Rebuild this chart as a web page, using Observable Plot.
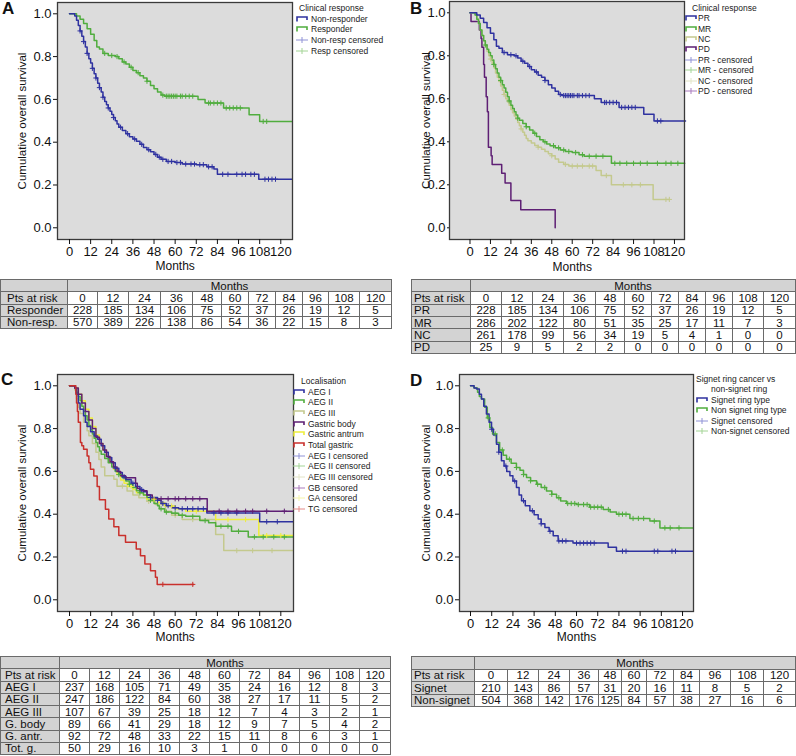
<!DOCTYPE html>
<html><head><meta charset="utf-8">
<script src="https://cdn.jsdelivr.net/npm/d3@7"></script>
<script src="https://cdn.jsdelivr.net/npm/@observablehq/plot@0.6"></script>
<style>
html,body{margin:0;padding:0;background:#fff;}
#root{position:relative;width:796px;height:756px;overflow:hidden;font-family:"Liberation Sans",Arial,Helvetica,sans-serif;color:#111;}
.abs{position:absolute;}
.plabel{font-weight:bold;font-size:17px;line-height:16px;}
.legend{font-size:8.5px;color:#222;white-space:nowrap;}
.legend .row{display:flex;align-items:center;}
.legend .title{text-align:left;}
table.risk{border-collapse:collapse;table-layout:fixed;font-size:11.5px;}
table.risk td{border:1px solid #6a6a6a;padding:0;text-align:center;line-height:10px;overflow:hidden;white-space:nowrap;box-sizing:border-box;}
table.risk td.h{background:#d3d3d3;text-align:left;}
table.risk td.mh{background:#d3d3d3;text-align:center;}
</style></head><body><div id="root"></div>
<script>
// ---------- shared ticks ----------
const months = [0,12,24,36,48,60,72,84,96,108,120];
const yTicks = [0,0.2,0.4,0.6,0.8,1.0];

// ---------- Panel A : clinical response ----------
const responder = [[0,1],[4,0.99],[6,0.975],[8,0.955],[10,0.93],[12,0.905],[14,0.875],[15.5,0.845],[17,0.835],[19,0.815],[22,0.805],[26,0.8],[28,0.79],[30,0.775],[32,0.765],[34,0.75],[36,0.735],[38,0.725],[40,0.71],[42,0.7],[44,0.685],[46,0.665],[48,0.65],[50,0.635],[52,0.62],[54,0.615],[73,0.6],[77,0.583],[87.5,0.56],[102,0.528],[108,0.497],[126.5,0.497]];
const responderCens = [20,24,27,31,35,39,44,53,55,56,57,58,59,60,61,63,64,66,68,70,79,80,82,84,86,89,91,93,95,97,110,112];
const nonResponder = [[0,1],[3,0.99],[4,0.97],[5,0.945],[6,0.92],[7,0.895],[8,0.87],[9,0.845],[10,0.815],[11,0.79],[12,0.77],[13,0.745],[14,0.72],[15,0.7],[16,0.675],[17,0.655],[18,0.635],[19,0.61],[20,0.59],[21,0.575],[22,0.56],[23,0.545],[24,0.53],[25,0.515],[26,0.5],[27,0.485],[28,0.47],[30,0.455],[32,0.44],[34,0.425],[36,0.415],[38,0.405],[40,0.39],[42,0.375],[44,0.365],[46,0.355],[48,0.343],[50,0.33],[52,0.32],[55,0.31],[60,0.305],[64,0.298],[72,0.295],[78,0.285],[82,0.275],[84,0.25],[107.5,0.227],[126.5,0.227]];
const nonResponderCens = [6,8,10,13,15,17,19,22,25,29,33,37,41,45,49,51,53,56,58,61,63,66,69,71,74,76,79,81,87,90,95,98,100,103,105,111,113,115,117];
const riskResponder = [228,185,134,106,75,52,37,26,19,12,5];
const riskNonResp = [570,389,226,138,86,54,36,22,15,8,3];

// ---------- Panel B : PR / MR / NC / PD ----------
const curvePR = responder; // same patients as "Responder" (identical numbers at risk)
const curvePRCens = responderCens;
const curveMR = [[0,1],[3,0.99],[4,0.97],[5,0.95],[6,0.92],[7,0.895],[8,0.87],[9,0.85],[10,0.83],[11,0.815],[12,0.8],[13,0.78],[14,0.76],[15,0.74],[16,0.72],[17,0.7],[18,0.685],[19,0.665],[20,0.65],[21,0.63],[22,0.61],[23,0.59],[24,0.57],[25,0.555],[26,0.54],[27,0.525],[28,0.51],[29,0.5],[31,0.485],[33,0.47],[35,0.455],[37,0.44],[39,0.425],[41,0.41],[43,0.4],[45,0.39],[47,0.382],[50,0.372],[53,0.362],[56,0.355],[60,0.35],[64,0.34],[67,0.333],[83,0.3],[126,0.3]];
const curveMRCens = [9,14,18,23,28,33,38,44,49,52,55,58,62,66,70,74,78,85,88,92,96,100,104,110,115,118,122];
const curveNC = [[0,1],[3,0.99],[4,0.97],[5,0.95],[6,0.92],[7,0.895],[8,0.87],[9,0.845],[10,0.82],[11,0.8],[12,0.785],[13,0.765],[14,0.745],[15,0.72],[16,0.7],[17,0.68],[18,0.66],[19,0.64],[20,0.62],[21,0.6],[22,0.585],[23,0.57],[24,0.55],[25,0.535],[26,0.52],[27,0.505],[28,0.49],[29,0.475],[30,0.46],[31,0.445],[32,0.43],[33,0.415],[34,0.405],[36,0.395],[38,0.383],[40,0.375],[42,0.365],[44,0.355],[46,0.345],[48,0.335],[50,0.32],[52,0.305],[55,0.295],[58,0.287],[74,0.267],[77,0.243],[83,0.2],[107.5,0.132],[117,0.132]];
const curveNCCens = [12,20,30,40,48,56,60,63,66,70,72,80,90,95,100,115,117];
const curvePD = [[0,1],[0.6,0.96],[5.5,0.92],[6.5,0.88],[7,0.84],[8,0.76],[8.5,0.7],[9.5,0.61],[10.2,0.54],[10.8,0.375],[12.4,0.335],[13,0.295],[18.6,0.254],[20.6,0.208],[24,0.127],[29.8,0.084],[50,0]];
const riskPR = [228,185,134,106,75,52,37,26,19,12,5];
const riskMR = [286,202,122,80,51,35,25,17,11,7,3];
const riskNC = [261,178,99,56,34,19,5,4,1,0,0];
const riskPD = [25,9,5,2,2,0,0,0,0,0,0];

// ---------- Panel C : localisation ----------
const curveAEG1 = [[0,1],[3,0.99],[4,0.96],[5,0.92],[6,0.89],[8,0.86],[9,0.83],[10,0.81],[12,0.785],[14,0.765],[16,0.75],[18,0.72],[20,0.69],[22,0.665],[24,0.64],[26,0.615],[28,0.595],[30,0.575],[32,0.562],[35,0.545],[37.5,0.53],[40,0.515],[42,0.505],[44,0.49],[46,0.478],[50,0.465],[52,0.45],[55,0.44],[58,0.43],[62,0.425],[78,0.406],[108,0.365],[127,0.365]];
const curveAEG1Cens = [26,31,36,41,46,50,53,56,60,64,67,70,73,76,82,86,90,95,112,118];
const curveAEG2 = [[0,1],[3,0.99],[4,0.97],[5,0.95],[6,0.93],[7,0.905],[8,0.88],[9,0.86],[10,0.84],[11,0.815],[12,0.795],[13,0.775],[14,0.755],[15,0.735],[16,0.715],[17,0.695],[18,0.68],[20,0.66],[22,0.64],[24,0.62],[26,0.6],[28,0.585],[30,0.57],[32,0.555],[34,0.54],[36,0.525],[38,0.51],[40,0.5],[42,0.49],[44,0.478],[46,0.465],[48,0.45],[50,0.44],[51,0.425],[54,0.41],[58,0.405],[62,0.395],[66,0.39],[74,0.37],[79,0.36],[83,0.344],[92,0.32],[101.5,0.294],[127,0.294]];
const curveAEG2Cens = [28,34,40,46,52,55,60,64,70,77,86,90,96,105,110,116,122];
const curveAEG3 = [[0,1],[3,0.98],[4,0.94],[5,0.9],[6,0.87],[8,0.83],[10,0.79],[11,0.766],[13,0.73],[15,0.69],[16.7,0.656],[18,0.62],[20,0.58],[25.2,0.563],[27,0.531],[32.7,0.508],[36,0.49],[39.4,0.477],[44,0.46],[48.8,0.445],[54.5,0.414],[58,0.395],[64,0.375],[83,0.305],[87.6,0.23],[127,0.23]];
const curveAEG3Cens = [30,45,60,70,95,104,115];
const curveGBody = [[0,1],[3,0.99],[5,0.96],[7,0.92],[9,0.88],[11,0.84],[13,0.8],[15,0.76],[17,0.73],[19,0.7],[21,0.67],[23,0.645],[25,0.62],[27,0.6],[29,0.58],[31.8,0.57],[37.5,0.545],[38.5,0.52],[40,0.51],[44,0.49],[47,0.472],[78.2,0.414],[127,0.414]];
const curveGBodyCens = [52,56,60,62,66,70,74,85,90,95,100,104,112,122];
const curveGAntr = [[0,1],[3,0.99],[5,0.96],[7,0.93],[9,0.89],[11,0.85],[13,0.81],[15,0.77],[17,0.73],[19,0.7],[21,0.67],[23,0.64],[25,0.61],[27,0.585],[29,0.56],[31,0.545],[33,0.53],[36,0.515],[38,0.5],[42,0.49],[44,0.47],[50,0.455],[54,0.438],[60,0.425],[66,0.414],[83,0.375],[107.5,0.3],[127,0.3]];
const curveGAntrCens = [35,48,58,72,90,100,112,120];
const curveTotG = [[0,1],[3.6,0.96],[4,0.92],[4.5,0.88],[5,0.83],[6.2,0.735],[7,0.72],[8,0.703],[10,0.672],[11,0.64],[11.9,0.61],[13.8,0.578],[15.7,0.53],[17,0.467],[20.4,0.423],[22.3,0.377],[25.2,0.341],[28,0.3],[31.8,0.269],[37.9,0.237],[40.3,0.206],[42.8,0.167],[46,0.136],[48.8,0.105],[49.8,0.072],[70.6,0.072]];
const curveTotGCens = [53,70];
const riskAEG1 = [237,168,105,71,49,35,24,16,12,8,3];
const riskAEG2 = [247,186,122,84,60,38,27,17,11,5,2];
const riskAEG3 = [107,67,39,25,18,12,7,4,3,2,1];
const riskGBody = [89,66,41,29,18,12,9,7,5,4,2];
const riskGAntr = [92,72,48,33,22,15,11,8,6,3,1];
const riskTotG = [50,29,16,10,3,1,0,0,0,0,0];

// ---------- Panel D : signet ring ----------
const curveSignet = [[0,1],[2,0.99],[3.4,0.985],[5,0.96],[6.2,0.938],[7.5,0.905],[9,0.868],[10.5,0.83],[11.9,0.797],[13,0.77],[14.7,0.727],[16,0.69],[17.5,0.65],[19,0.625],[20.5,0.6],[22.3,0.58],[24,0.555],[26,0.525],[27.5,0.49],[28.9,0.463],[31,0.44],[33.6,0.416],[36,0.397],[38.3,0.377],[40,0.355],[42.1,0.338],[44.5,0.32],[46.8,0.299],[49.6,0.275],[58,0.265],[77.9,0.245],[82.6,0.227],[126,0.227]];
const curveSignetCens = [12,16,20,25,30,35,40,45,50,52,54,60,62,64,66,68,70,86,88,104,106,114,116];
const curveNonSignet = [[0,1],[2,0.99],[4,0.97],[5,0.95],[6.2,0.938],[8,0.9],[9.5,0.85],[10.9,0.805],[12.5,0.775],[14.7,0.735],[16.5,0.7],[18.5,0.675],[20.4,0.657],[23,0.638],[26,0.618],[28,0.605],[30,0.585],[31.7,0.571],[34,0.556],[37.4,0.54],[40,0.525],[43,0.508],[46,0.493],[48.7,0.477],[51,0.462],[54.3,0.45],[60,0.445],[67.5,0.433],[75.1,0.422],[79,0.41],[82.6,0.4],[90.2,0.38],[101.5,0.368],[107.2,0.336],[126,0.336]];
const curveNonSignetCens = [10,14,18,22,26,30,34,38,42,46,50,55,57,59,61,64,66,68,70,72,74,78,84,86,88,92,95,98,104,110,113,118];
const riskSignet = [210,143,86,57,31,20,16,11,8,5,2];
const riskNonSignet = [504,368,142,176,125,84,57,38,27,16,6];

// ---------- colours ----------
const C = {blue:"#2f32a0", green:"#50ad3e", khaki:"#c4c98e", purple:"#5e1f74", yellow:"#eeee3c", red:"#c9302c",
  lblue:"#8f92d6", lgreen:"#a3d495", lkhaki:"#e2e4c6", lpurple:"#a97bbd", lyellow:"#f5f5a8", lred:"#e58a86"};
const FONT = '"Liberation Sans", Arial, Helvetica, sans-serif';

function survAt(curve, t){ let v = curve[0][1]; for (const [m,s] of curve){ if (m <= t) v = s; else break; } return v; }

const root = document.getElementById("root");

function kmPlot(cfg){
  const marks = [Plot.frame({fill:"#dcdcdc"})];
  for (const s of cfg.series){
    marks.push(Plot.line(s.curve, {x: d=>d[0], y: d=>d[1], stroke: s.color, strokeWidth: 1.5, curve: "step-after"}));
  }
  for (const s of cfg.series){
    if (!s.cens) continue;
    const pts = s.cens.map(t => [t, survAt(s.curve, t)]);
    marks.push(Plot.dot(pts, {x: d=>d[0], y: d=>d[1], stroke: s.color, symbol: "plus", r: 1.8, strokeWidth: 1}));
  }
  marks.push(Plot.frame({stroke:"#3a3a3a", strokeWidth:1.3}));
  marks.push(Plot.axisX({ticks: months, tickSize: 5, tickPadding: 2, label: null, fontSize: 13}));
  marks.push(Plot.axisY({ticks: yTicks, tickFormat: d3.format(".1f"), tickSize: cfg.ytick ?? 4, tickPadding: 2, label: null, fontSize: 13}));
  marks.push(Plot.text([d3.mean(months)], {x: d=>d, frameAnchor: "bottom", lineAnchor: "middle", dy: cfg.xlabDy, text: () => "Months", fontSize: 12}));
  marks.push(Plot.text(["Cumulative overall survival"], {frameAnchor: "left", textAnchor: "middle", lineAnchor: "middle", dx: cfg.ylabDx, rotate: -90, text: d=>d, fontSize: 11.5}));
  const svg = Plot.plot({
    width: cfg.w, height: cfg.h,
    marginLeft: cfg.ml, marginRight: cfg.mr, marginTop: cfg.mt, marginBottom: cfg.mb,
    style: {fontFamily: FONT, fontSize: "13px", background: "transparent", color: "#111", overflow: "visible"},
    x: {domain: cfg.xd}, y: {domain: cfg.yd},
    marks
  });
  svg.style.position = "absolute"; svg.style.left = cfg.left + "px"; svg.style.top = cfg.top + "px";
  root.appendChild(svg);
}

function panelLabel(text, left, top){
  const d = document.createElement("div"); d.className = "abs plabel"; d.textContent = text;
  d.style.left = left + "px"; d.style.top = top + "px"; root.appendChild(d);
}

function swatch(color, type){
  const ns = "http://www.w3.org/2000/svg";
  const s = document.createElementNS(ns, "svg"); s.setAttribute("width", 12); s.setAttribute("height", 8);
  const p = document.createElementNS(ns, "path");
  if (type === "line") { p.setAttribute("d", "M1,6.5 V2 H11 V5"); p.setAttribute("stroke-width", 1.6); }
  else { p.setAttribute("d", "M0,4 H12 M6,1 V7"); p.setAttribute("stroke-width", 1); }
  p.setAttribute("stroke", color); p.setAttribute("fill", "none");
  s.appendChild(p); return s;
}

function legend(cfg){
  const d = document.createElement("div"); d.className = "abs legend";
  d.style.left = cfg.left + "px"; d.style.top = cfg.top + "px";
  for (const [i, t] of cfg.title.entries()){
    const r = document.createElement("div"); r.className = "title"; r.textContent = t;
    r.style.height = cfg.rowH + "px"; r.style.lineHeight = cfg.rowH + "px";
    r.style.paddingLeft = (cfg.titlePad[i] ?? 0) + "px";
    d.appendChild(r);
  }
  for (const it of cfg.items){
    const r = document.createElement("div"); r.className = "row"; r.style.height = cfg.rowH + "px";
    const sw = swatch(it.color, it.type); sw.style.marginRight = cfg.gap + "px"; r.appendChild(sw);
    const sp = document.createElement("span"); sp.textContent = it.label; r.appendChild(sp);
    d.appendChild(r);
  }
  root.appendChild(d);
}

function riskTable(cfg){
  const t = document.createElement("table"); t.className = "risk abs";
  t.style.left = cfg.left + "px"; t.style.top = cfg.top + "px";
  const cg = document.createElement("colgroup");
  for (const w of [cfg.firstW, ...cfg.colW]){ const c = document.createElement("col"); c.style.width = w + "px"; cg.appendChild(c); }
  t.appendChild(cg);
  t.style.width = (cfg.firstW + d3.sum(cfg.colW)) + "px";
  const addRow = (cells) => { const tr = document.createElement("tr"); tr.style.height = cfg.rowH + "px"; cells.forEach(c => tr.appendChild(c)); t.appendChild(tr); };
  const td = (txt, cls, span) => { const c = document.createElement("td"); c.textContent = txt; if (cls) c.className = cls; if (span) c.colSpan = span; if (cls === "h") c.style.paddingLeft = cfg.pad + "px"; return c; };
  addRow([td("", "h"), td("Months", "mh", months.length)]);
  addRow([td("Pts at risk", "h"), ...months.map(m => td(String(m)))]);
  for (const [label, vals] of cfg.rows) addRow([td(label, "h"), ...vals.map(v => td(String(v)))]);
  root.appendChild(t);
}

// ---------- Panel A ----------
kmPlot({left:0, top:0, w:300, h:275, ml:57, mr:8, mt:2, mb:36, xd:[-6.815,126.65], yd:[-0.0547,1.0528], xlabDy:27, ylabDx:-35,
  series:[{curve:responder, cens:responderCens, color:C.green},{curve:nonResponder, cens:nonResponderCens, color:C.blue}]});
// ---------- Panel B ----------
kmPlot({left:398, top:0, w:300, h:275, ml:51, mr:14, mt:1, mb:36, xd:[-12.03,125.9], yd:[-0.0544,1.0526], xlabDy:27.5, ylabDx:-23.5, ytick:2,
  series:[{curve:curvePD, color:C.purple},{curve:curveNC, cens:curveNCCens, color:C.khaki},{curve:curveMR, cens:curveMRCens, color:C.green},{curve:curvePR, cens:curvePRCens, color:C.blue}]});
// ---------- Panel C ----------
kmPlot({left:0, top:370, w:300, h:275, ml:57, mr:7, mt:4, mb:34, xd:[-6.815,127.2], yd:[-0.0547,1.0528], xlabDy:26, ylabDx:-35,
  series:[{curve:curveAEG3, cens:curveAEG3Cens, color:C.khaki},{curve:curveGAntr, cens:curveGAntrCens, color:C.yellow},{curve:curveAEG2, cens:curveAEG2Cens, color:C.green},{curve:curveAEG1, cens:curveAEG1Cens, color:C.blue},{curve:curveGBody, cens:curveGBodyCens, color:C.purple},{curve:curveTotG, cens:curveTotGCens, color:C.red}]});
// ---------- Panel D ----------
kmPlot({left:398, top:370, w:300, h:275, ml:61, mr:5, mt:4, mb:34, xd:[-6.23,126.2], yd:[-0.0547,1.0528], xlabDy:26, ylabDx:-33.5,
  series:[{curve:curveNonSignet, cens:curveNonSignetCens, color:C.green},{curve:curveSignet, cens:curveSignetCens, color:C.blue}]});

panelLabel("A", 2, 1); panelLabel("B", 410, 1); panelLabel("C", 1, 372); panelLabel("D", 410, 373);

legend({left:296, top:2.7, rowH:10.67, gap:3, title:["Clinical response"], titlePad:[3], items:[
  {label:"Non-responder", color:C.blue, type:"line"},{label:"Responder", color:C.green, type:"line"},
  {label:"Non-resp censored", color:C.lblue, type:"cens"},{label:"Resp censored", color:C.lgreen, type:"cens"}]});
legend({left:685, top:2.5, rowH:10.43, gap:1, title:["Clinical response"], titlePad:[7], items:[
  {label:"PR", color:C.blue, type:"line"},{label:"MR", color:C.green, type:"line"},{label:"NC", color:C.khaki, type:"line"},{label:"PD", color:C.purple, type:"line"},
  {label:"PR - censored", color:C.lblue, type:"cens"},{label:"MR - censored", color:C.lgreen, type:"cens"},{label:"NC - censored", color:C.lkhaki, type:"cens"},{label:"PD - censored", color:C.lpurple, type:"cens"}]});
legend({left:293, top:375.7, rowH:10.67, gap:3, title:["Localisation"], titlePad:[8], items:[
  {label:"AEG I", color:C.blue, type:"line"},{label:"AEG II", color:C.green, type:"line"},{label:"AEG III", color:C.khaki, type:"line"},
  {label:"Gastric body", color:C.purple, type:"line"},{label:"Gastric antrum", color:C.yellow, type:"line"},{label:"Total gastric", color:C.red, type:"line"},
  {label:"AEG I censored", color:C.lblue, type:"cens"},{label:"AEG II censored", color:C.lgreen, type:"cens"},{label:"AEG III censored", color:C.lkhaki, type:"cens"},
  {label:"GB censored", color:C.lpurple, type:"cens"},{label:"GA censored", color:C.lyellow, type:"cens"},{label:"TG censored", color:C.lred, type:"cens"}]});
legend({left:696, top:374, rowH:10.4, gap:3, title:["Signet ring cancer vs","non-signet ring"], titlePad:[0,15], items:[
  {label:"Signet ring type", color:C.blue, type:"line"},{label:"Non signet ring type", color:C.green, type:"line"},
  {label:"Signet censored", color:C.lblue, type:"cens"},{label:"Non-signet censored", color:C.lgreen, type:"cens"}]});

riskTable({left:0, top:279, rowH:12.25, pad:6, firstW:67, colW:[30,31,32,32,29,27,27,27,26,31,32], rows:[["Responder", riskResponder],["Non-resp.", riskNonResp]]});
riskTable({left:411, top:279, rowH:12.33, pad:2, firstW:59, colW:[31,31,31,32,29,27,27,27,27,31,32], rows:[["PR", riskPR],["MR", riskMR],["NC", riskNC],["PD", riskPD]]});
riskTable({left:0, top:656, rowH:12.25, pad:4, firstW:59, colW:[30,30,30,30,30,30,30,30,30,30,31], rows:[["AEG I", riskAEG1],["AEG II", riskAEG2],["AEG III", riskAEG3],["G. body", riskGBody],["G. antr.", riskGAntr],["Tot. g.", riskTotG]]});
riskTable({left:411, top:656, rowH:12.5, pad:2, firstW:63, colW:[33,31,31,29,23,25,27,26,31,33,32], rows:[["Signet", riskSignet],["Non-signet", riskNonSignet]]});
</script></body></html>
